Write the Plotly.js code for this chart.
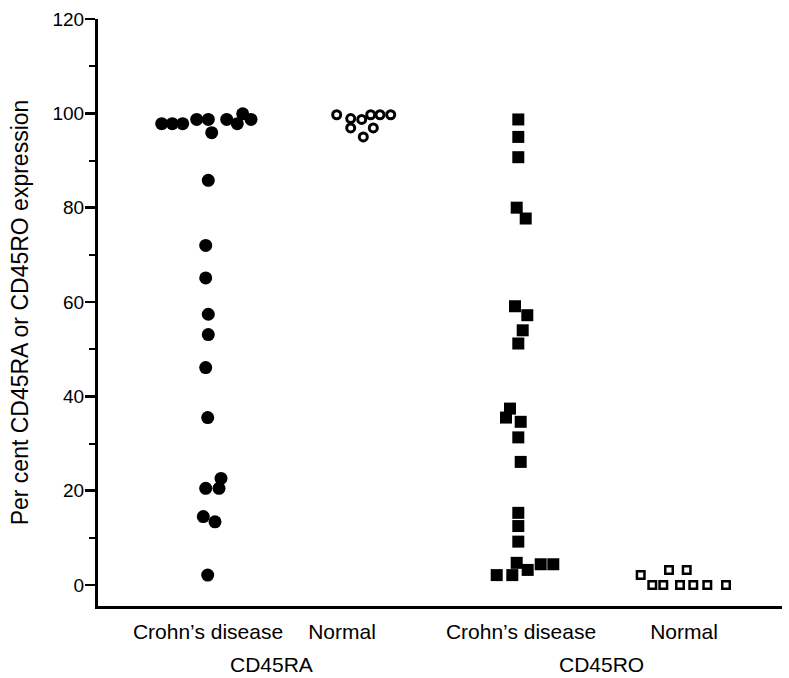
<!DOCTYPE html>
<html>
<head>
<meta charset="utf-8">
<script src="https://cdn.plot.ly/plotly-3.0.1.min.js"></script>
<style>html,body{margin:0;padding:0;background:#fff;}#chart{width:789px;height:678px;}</style>
</head>
<body>
<div id="chart"></div>
<script>
// Category labels and their horizontal positions (x axis units)
var categoryLabels = ["Crohn\u2019s disease", "Normal", "Crohn\u2019s disease", "Normal"];
var categoryPos = [1.10, 2.44, 4.23, 5.86];
var groupLabels = ["CD45RA", "CD45RO"];
var groupPos = [1.73, 5.03];

// CD45RA, Crohn's disease (filled circles)
var raCrohnX = [0.637, 0.743, 0.847, 0.987, 1.103, 1.137, 1.287, 1.393, 1.447, 1.530,
                1.103, 1.077, 1.077, 1.103, 1.103, 1.077, 1.097, 1.230, 1.210, 1.077, 1.053, 1.170, 1.097];
var raCrohnY = [97.8, 97.8, 97.8, 98.7, 98.7, 95.9, 98.7, 97.8, 99.9, 98.7,
                85.8, 72.0, 65.1, 57.4, 53.1, 46.1, 35.5, 22.6, 20.5, 20.5, 14.5, 13.4, 2.1];

// CD45RA, Normal (open circles)
var raNormalX = [2.387, 2.527, 2.637, 2.727, 2.820, 2.927, 2.527, 2.753, 2.653];
var raNormalY = [99.7, 98.9, 98.7, 99.7, 99.7, 99.7, 96.9, 96.9, 95.0];

// CD45RO, Crohn's disease (filled squares)
var roCrohnX = [4.203, 4.203, 4.203, 4.187, 4.277, 4.170, 4.293, 4.247, 4.203, 4.120, 4.080, 4.227,
                4.203, 4.227, 4.203, 4.203, 4.203, 4.187, 4.297, 4.427, 4.553, 3.987, 4.143];
var roCrohnY = [98.7, 95.0, 90.7, 80.0, 77.7, 59.1, 57.2, 54.0, 51.2, 37.4, 35.5, 34.6,
                31.3, 26.1, 15.3, 12.5, 9.2, 4.7, 3.2, 4.4, 4.4, 2.1, 2.1];

// CD45RO, Normal (open squares)
var roNormalX = [5.427, 5.543, 5.653, 5.710, 5.820, 5.887, 5.953, 6.093, 6.280];
var roNormalY = [2.1, 0, 0, 3.2, 0, 3.2, 0, 0, 0];

var FONT = "Liberation Sans, Arial, Helvetica, sans-serif";

var traces = [
  {x: raCrohnX, y: raCrohnY, type: "scatter", mode: "markers", name: "CD45RA Crohn's",
   marker: {symbol: "circle", size: 13, color: "#000", line: {width: 0}}},
  {x: raNormalX, y: raNormalY, type: "scatter", mode: "markers", name: "CD45RA Normal",
   marker: {symbol: "circle", size: 8, color: "#fff", line: {width: 3, color: "#000"}}},
  {x: roCrohnX, y: roCrohnY, type: "scatter", mode: "markers", name: "CD45RO Crohn's",
   marker: {symbol: "square", size: 12, color: "#000", line: {width: 0}}},
  {x: roNormalX, y: roNormalY, type: "scatter", mode: "markers", name: "CD45RO Normal",
   marker: {symbol: "square", size: 7.5, color: "#fff", line: {width: 2.5, color: "#000"}}}
];

var annotations = groupLabels.map(function (t, i) {
  return {text: t, x: groupPos[i], xref: "x", y: -0.1, yref: "paper", yanchor: "middle",
          xanchor: "center", showarrow: false, font: {family: FONT, size: 21, color: "#000"}};
});

var layout = {
  width: 789, height: 678,
  margin: {l: 98, r: 7, t: 18.5, b: 72, pad: 0},
  paper_bgcolor: "#fff", plot_bgcolor: "#fff",
  showlegend: false,
  font: {family: FONT, color: "#000"},
  xaxis: {
    range: [0, 6.84], showgrid: false, zeroline: false,
    showline: true, linewidth: 3, linecolor: "#000",
    ticks: "", tickmode: "array", tickvals: categoryPos, ticktext: categoryLabels,
    tickfont: {family: FONT, size: 21, color: "#000"}, ticklabelstandoff: 5
  },
  yaxis: {
    range: [-4.45, 120], showgrid: false, zeroline: false,
    showline: true, linewidth: 3, linecolor: "#000",
    ticks: "outside", ticklen: 10, tickwidth: 2.5, tickcolor: "#000",
    tickmode: "linear", tick0: 0, dtick: 20,
    tickfont: {family: FONT, size: 19, color: "#000", weight: 500}, ticklabelstandoff: -3,
    minor: {ticks: "outside", dtick: 10, tick0: 0, ticklen: 6, tickwidth: 2, tickcolor: "#000"},
    title: {text: "Per cent CD45RA or CD45RO expression", standoff: 18,
            font: {family: FONT, size: 23, color: "#000"}}
  },
  annotations: annotations
};

Plotly.newPlot("chart", traces, layout, {staticPlot: true, displayModeBar: false});
</script>
</body>
</html>
